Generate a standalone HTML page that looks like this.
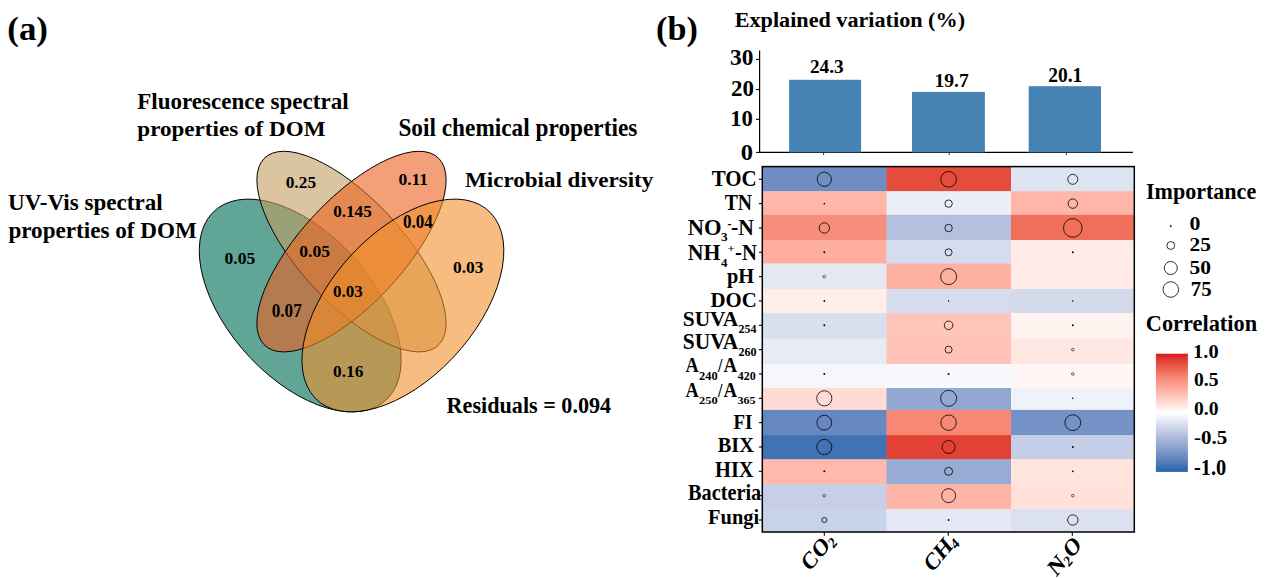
<!DOCTYPE html>
<html><head><meta charset="utf-8"><style>
html,body{margin:0;padding:0;background:#fff;overflow:hidden;}
svg{display:block;font-family:"Liberation Serif", serif;}
</style></head><body>
<svg width="1269" height="578" viewBox="0 0 1269 578">
<rect width="1269" height="578" fill="#fff"/>
<text transform="translate(7.30,40.03) scale(1,0.968)" font-size="34.90" font-weight="bold">(a)</text>
<text transform="translate(137.20,108.60) scale(1,0.968)" font-size="23.07" font-weight="bold">Fluorescence spectral</text>
<text transform="translate(137.30,136.01) scale(1,0.914)" font-size="23.11" font-weight="bold">properties of DOM</text>
<text transform="translate(398.40,135.79) scale(1,1.051)" font-size="23.30" font-weight="bold">Soil chemical properties</text>
<text transform="translate(465.10,187.00) scale(1,0.939)" font-size="23.04" font-weight="bold">Microbial diversity</text>
<text transform="translate(8.10,210.30) scale(1,1.000)" font-size="23.10" font-weight="bold">UV-Vis spectral</text>
<text transform="translate(8.40,238.20) scale(1,0.966)" font-size="23.14" font-weight="bold">properties of DOM</text>
<text transform="translate(446.60,412.59) scale(1,1.047)" font-size="22.16" font-weight="bold">Residuals = 0.094</text>
<ellipse cx="0" cy="0" rx="124.2" ry="70.4" transform="translate(300.2,305.5) scale(1,1.054) rotate(45)" fill="#0C745D" fill-opacity="0.65" stroke="#000" stroke-width="0.9"/>
<ellipse cx="0" cy="0" rx="123.9" ry="50.6" transform="translate(351.5,251.6) scale(1,1.06) rotate(45)" fill="#C19E61" fill-opacity="0.6" stroke="#000" stroke-width="0.9"/>
<ellipse cx="0" cy="0" rx="123.9" ry="50.6" transform="translate(351.5,251.6) scale(1,1.06) rotate(-45)" fill="#EB611E" fill-opacity="0.6" stroke="#000" stroke-width="0.9"/>
<ellipse cx="0" cy="0" rx="124.2" ry="70.4" transform="translate(402.9,305.5) scale(1,1.054) rotate(-45)" fill="#F08F2B" fill-opacity="0.6" stroke="#000" stroke-width="0.9"/>
<text transform="translate(285.70,187.50) scale(1,1.002)" font-size="17.36" font-weight="bold">0.25</text>
<text transform="translate(333.20,217.20) scale(1,1.006)" font-size="17.15" font-weight="bold">0.145</text>
<text transform="translate(398.40,184.51) scale(1,0.949)" font-size="17.50" font-weight="bold">0.11</text>
<text transform="translate(224.50,263.60) scale(1,0.992)" font-size="17.60" font-weight="bold">0.05</text>
<text transform="translate(299.30,257.31) scale(1,0.966)" font-size="17.60" font-weight="bold">0.05</text>
<text transform="translate(403.00,227.69) scale(1,1.060)" font-size="17.02" font-weight="bold">0.04</text>
<text transform="translate(453.00,272.60) scale(1,0.992)" font-size="17.40" font-weight="bold">0.03</text>
<text transform="translate(271.80,317.19) scale(1,1.052)" font-size="17.10" font-weight="bold">0.07</text>
<text transform="translate(333.10,296.80) scale(1,1.020)" font-size="16.96" font-weight="bold">0.03</text>
<text transform="translate(333.10,376.50) scale(1,1.000)" font-size="17.30" font-weight="bold">0.16</text>
<text transform="translate(656.10,40.16) scale(1,0.977)" font-size="34.20" font-weight="bold">(b)</text>
<text transform="translate(734.70,26.70) scale(1,0.973)" font-size="22.18" font-weight="bold">Explained variation (%)</text>
<path d="M759.6 50.5 V152.4 H1133" fill="none" stroke="#000" stroke-width="1.2"/>
<path d="M756 59.5 H759.6" stroke="#000" stroke-width="1.1"/>
<path d="M756 89.5 H759.6" stroke="#000" stroke-width="1.1"/>
<path d="M756 119.3 H759.6" stroke="#000" stroke-width="1.1"/>
<path d="M756 152.4 H759.6" stroke="#000" stroke-width="1.1"/>
<text transform="translate(730.00,64.70) scale(1,0.987)" font-size="23.40" font-weight="bold">30</text>
<text transform="translate(730.90,95.60) scale(1,1.020)" font-size="22.99" font-weight="bold">20</text>
<text transform="translate(730.20,125.50) scale(1,1.007)" font-size="22.79" font-weight="bold">10</text>
<text transform="translate(740.70,159.82) scale(1,0.908)" font-size="24.54" font-weight="bold">0</text>
<rect x="789.1" y="79.8" width="72.00" height="72.60" fill="#4682B4"/>
<rect x="912" y="91.9" width="72.90" height="60.50" fill="#4682B4"/>
<rect x="1028.7" y="86.2" width="72.30" height="66.20" fill="#4682B4"/>
<text transform="translate(809.90,73.20) scale(1,0.977)" font-size="19.30" font-weight="bold">24.3</text>
<text transform="translate(934.40,86.70) scale(1,1.006)" font-size="19.64" font-weight="bold">19.7</text>
<text transform="translate(1048.20,82.20) scale(1,1.062)" font-size="19.50" font-weight="bold">20.1</text>
<path d="M823.6 152.4 V155" stroke="#000" stroke-width="0.8"/>
<path d="M949.2 152.4 V155" stroke="#000" stroke-width="0.8"/>
<path d="M1066.4 152.4 V155" stroke="#000" stroke-width="0.8"/>
<rect x="762.30" y="166.50" width="124.60" height="25.10" fill="#6D8DC3"/>
<rect x="886.50" y="166.50" width="124.90" height="25.10" fill="#E44D3C"/>
<rect x="1011.00" y="166.50" width="123.70" height="25.10" fill="#DEE3F1"/>
<rect x="762.30" y="191.20" width="124.60" height="24.00" fill="#FFB6A8"/>
<rect x="886.50" y="191.20" width="124.90" height="24.00" fill="#EBEEF7"/>
<rect x="1011.00" y="191.20" width="123.70" height="24.00" fill="#FFB6A8"/>
<rect x="762.30" y="214.80" width="124.60" height="25.70" fill="#F78E7B"/>
<rect x="886.50" y="214.80" width="124.90" height="25.70" fill="#B3C1DF"/>
<rect x="1011.00" y="214.80" width="123.70" height="25.70" fill="#EF6F5B"/>
<rect x="762.30" y="240.10" width="124.60" height="23.80" fill="#FEAE9E"/>
<rect x="886.50" y="240.10" width="124.90" height="23.80" fill="#D4DCED"/>
<rect x="1011.00" y="240.10" width="123.70" height="23.80" fill="#FFEBE6"/>
<rect x="762.30" y="263.50" width="124.60" height="25.90" fill="#E3E8F3"/>
<rect x="886.50" y="263.50" width="124.90" height="25.90" fill="#FEB0A1"/>
<rect x="1011.00" y="263.50" width="123.70" height="25.90" fill="#FFEAE5"/>
<rect x="762.30" y="289.00" width="124.60" height="24.50" fill="#FFEEEA"/>
<rect x="886.50" y="289.00" width="124.90" height="24.50" fill="#D5DCED"/>
<rect x="1011.00" y="289.00" width="123.70" height="24.50" fill="#D2DAEC"/>
<rect x="762.30" y="313.10" width="124.60" height="26.00" fill="#D8DFEF"/>
<rect x="886.50" y="313.10" width="124.90" height="26.00" fill="#FFC5B9"/>
<rect x="1011.00" y="313.10" width="123.70" height="26.00" fill="#FFF3F0"/>
<rect x="762.30" y="338.70" width="124.60" height="25.70" fill="#E7EBF5"/>
<rect x="886.50" y="338.70" width="124.90" height="25.70" fill="#FFC2B6"/>
<rect x="1011.00" y="338.70" width="123.70" height="25.70" fill="#FFE8E2"/>
<rect x="762.30" y="364.00" width="124.60" height="24.40" fill="#F6F7FB"/>
<rect x="886.50" y="364.00" width="124.90" height="24.40" fill="#F8F9FC"/>
<rect x="1011.00" y="364.00" width="123.70" height="24.40" fill="#FFF6F5"/>
<rect x="762.30" y="388.00" width="124.60" height="22.30" fill="#FFDBD3"/>
<rect x="886.50" y="388.00" width="124.90" height="22.30" fill="#92A7D1"/>
<rect x="1011.00" y="388.00" width="123.70" height="22.30" fill="#F0F2F9"/>
<rect x="762.30" y="409.90" width="124.60" height="25.60" fill="#6588C0"/>
<rect x="886.50" y="409.90" width="124.90" height="25.60" fill="#F68874"/>
<rect x="1011.00" y="409.90" width="123.70" height="25.60" fill="#7492C5"/>
<rect x="762.30" y="435.10" width="124.60" height="24.60" fill="#4172B4"/>
<rect x="886.50" y="435.10" width="124.90" height="24.60" fill="#E14233"/>
<rect x="1011.00" y="435.10" width="123.70" height="24.60" fill="#C4CEE6"/>
<rect x="762.30" y="459.30" width="124.60" height="25.40" fill="#FFBAAC"/>
<rect x="886.50" y="459.30" width="124.90" height="25.40" fill="#97ABD4"/>
<rect x="1011.00" y="459.30" width="123.70" height="25.40" fill="#FFE4DE"/>
<rect x="762.30" y="484.30" width="124.60" height="25.10" fill="#C6CFE7"/>
<rect x="886.50" y="484.30" width="124.90" height="25.10" fill="#FFB5A6"/>
<rect x="1011.00" y="484.30" width="123.70" height="25.10" fill="#FFE1DA"/>
<rect x="762.30" y="509.00" width="124.60" height="23.40" fill="#C8D2E8"/>
<rect x="886.50" y="509.00" width="124.90" height="23.40" fill="#E4E8F4"/>
<rect x="1011.00" y="509.00" width="123.70" height="23.40" fill="#DBE1F0"/>
<circle cx="824.30" cy="179.30" r="7.1" fill="none" stroke="#000" stroke-width="0.8"/>
<circle cx="948.60" cy="179.30" r="7.8" fill="none" stroke="#000" stroke-width="0.8"/>
<circle cx="1072.80" cy="179.30" r="5.0" fill="none" stroke="#000" stroke-width="0.8"/>
<circle cx="824.30" cy="203.64" r="0.8" fill="#000"/>
<circle cx="948.60" cy="203.64" r="3.7" fill="none" stroke="#000" stroke-width="0.8"/>
<circle cx="1072.80" cy="203.64" r="4.7" fill="none" stroke="#000" stroke-width="0.8"/>
<circle cx="824.30" cy="227.97" r="5.2" fill="none" stroke="#000" stroke-width="0.8"/>
<circle cx="948.60" cy="227.97" r="3.7" fill="none" stroke="#000" stroke-width="0.8"/>
<circle cx="1072.80" cy="227.97" r="9.3" fill="none" stroke="#000" stroke-width="0.8"/>
<circle cx="824.30" cy="252.31" r="1.0" fill="#000"/>
<circle cx="948.60" cy="252.31" r="3.5" fill="none" stroke="#000" stroke-width="0.8"/>
<circle cx="1072.80" cy="252.31" r="1.0" fill="#000"/>
<circle cx="824.30" cy="276.64" r="1.3" fill="none" stroke="#000" stroke-width="0.6"/>
<circle cx="948.60" cy="276.64" r="8.0" fill="none" stroke="#000" stroke-width="0.8"/>
<circle cx="824.30" cy="300.98" r="0.9" fill="#000"/>
<circle cx="948.60" cy="300.98" r="0.7" fill="#000"/>
<circle cx="1072.80" cy="300.98" r="0.8" fill="#000"/>
<circle cx="824.30" cy="325.31" r="1.0" fill="#000"/>
<circle cx="948.60" cy="325.31" r="4.3" fill="none" stroke="#000" stroke-width="0.8"/>
<circle cx="1072.80" cy="325.31" r="1.0" fill="#000"/>
<circle cx="948.60" cy="349.64" r="3.5" fill="none" stroke="#000" stroke-width="0.8"/>
<circle cx="1072.80" cy="349.64" r="1.3" fill="none" stroke="#000" stroke-width="0.6"/>
<circle cx="824.30" cy="373.98" r="1.0" fill="#000"/>
<circle cx="948.60" cy="373.98" r="1.0" fill="#000"/>
<circle cx="1072.80" cy="373.98" r="1.3" fill="none" stroke="#000" stroke-width="0.6"/>
<circle cx="824.30" cy="398.32" r="7.6" fill="none" stroke="#000" stroke-width="0.8"/>
<circle cx="948.60" cy="398.32" r="8.0" fill="none" stroke="#000" stroke-width="0.8"/>
<circle cx="1072.80" cy="398.32" r="0.8" fill="#000"/>
<circle cx="824.30" cy="422.65" r="7.4" fill="none" stroke="#000" stroke-width="0.8"/>
<circle cx="948.60" cy="422.65" r="7.7" fill="none" stroke="#000" stroke-width="0.8"/>
<circle cx="1072.80" cy="422.65" r="7.9" fill="none" stroke="#000" stroke-width="0.8"/>
<circle cx="824.30" cy="446.99" r="7.6" fill="none" stroke="#000" stroke-width="0.8"/>
<circle cx="948.60" cy="446.99" r="6.5" fill="none" stroke="#000" stroke-width="0.8"/>
<circle cx="1072.80" cy="446.99" r="1.0" fill="#000"/>
<circle cx="824.30" cy="471.32" r="1.0" fill="#000"/>
<circle cx="948.60" cy="471.32" r="4.0" fill="none" stroke="#000" stroke-width="0.8"/>
<circle cx="1072.80" cy="471.32" r="0.9" fill="#000"/>
<circle cx="824.30" cy="495.66" r="1.3" fill="none" stroke="#000" stroke-width="0.6"/>
<circle cx="948.60" cy="495.66" r="7.0" fill="none" stroke="#000" stroke-width="0.8"/>
<circle cx="1072.80" cy="495.66" r="1.3" fill="none" stroke="#000" stroke-width="0.6"/>
<circle cx="824.30" cy="519.99" r="2.5" fill="none" stroke="#000" stroke-width="0.8"/>
<circle cx="948.60" cy="519.99" r="0.9" fill="#000"/>
<circle cx="1072.80" cy="519.99" r="5.2" fill="none" stroke="#000" stroke-width="0.8"/>
<rect x="762.3" y="166.6" width="372.00" height="365.40" fill="none" stroke="#000" stroke-width="1.5"/>
<path d="M758.9 179.30 H762.3" stroke="#000" stroke-width="1.1"/>
<path d="M758.9 203.64 H762.3" stroke="#000" stroke-width="1.1"/>
<path d="M758.9 227.97 H762.3" stroke="#000" stroke-width="1.1"/>
<path d="M758.9 252.31 H762.3" stroke="#000" stroke-width="1.1"/>
<path d="M758.9 276.64 H762.3" stroke="#000" stroke-width="1.1"/>
<path d="M758.9 300.98 H762.3" stroke="#000" stroke-width="1.1"/>
<path d="M758.9 325.31 H762.3" stroke="#000" stroke-width="1.1"/>
<path d="M758.9 349.64 H762.3" stroke="#000" stroke-width="1.1"/>
<path d="M758.9 373.98 H762.3" stroke="#000" stroke-width="1.1"/>
<path d="M758.9 398.32 H762.3" stroke="#000" stroke-width="1.1"/>
<path d="M758.9 422.65 H762.3" stroke="#000" stroke-width="1.1"/>
<path d="M758.9 446.99 H762.3" stroke="#000" stroke-width="1.1"/>
<path d="M758.9 471.32 H762.3" stroke="#000" stroke-width="1.1"/>
<path d="M758.9 495.66 H762.3" stroke="#000" stroke-width="1.1"/>
<path d="M758.9 519.99 H762.3" stroke="#000" stroke-width="1.1"/>
<text transform="translate(711.70,186.38) scale(1,1.105)" font-size="20.95" font-weight="bold">TOC</text>
<text transform="translate(724.70,210.40) scale(1,1.140)" font-size="19.70" font-weight="bold">TN</text>
<text transform="translate(687.70,234.70) scale(1,0.982)" font-size="22.57" font-weight="bold">NO</text>
<text transform="translate(720.90,241.31) scale(1,0.900)" font-size="13.30" font-weight="bold">3</text>
<text transform="translate(727.60,228.22) scale(1,1.150)" font-size="12.00" font-weight="bold">-</text>
<text transform="translate(731.10,234.90) scale(1,1.049)" font-size="21.70" font-weight="bold">-N</text>
<text transform="translate(687.70,260.00) scale(1,1.035)" font-size="21.80" font-weight="bold">NH</text>
<text transform="translate(720.90,266.70) scale(1,0.965)" font-size="12.90" font-weight="bold">4</text>
<text transform="translate(727.40,252.38) scale(1,0.900)" font-size="12.50" font-weight="bold">+</text>
<text transform="translate(735.00,260.00) scale(1,1.088)" font-size="20.70" font-weight="bold">-N</text>
<text transform="translate(726.90,283.30) scale(1,1.067)" font-size="20.40" font-weight="bold">pH</text>
<text transform="translate(710.50,306.89) scale(1,1.055)" font-size="20.85" font-weight="bold">DOC</text>
<text transform="translate(682.70,325.60) scale(1,1.016)" font-size="21.46" font-weight="bold">SUVA</text>
<text transform="translate(738.50,333.39) scale(1,1.062)" font-size="11.90" font-weight="bold">254</text>
<text transform="translate(682.70,348.89) scale(1,1.050)" font-size="21.46" font-weight="bold">SUVA</text>
<text transform="translate(738.50,355.80) scale(1,1.000)" font-size="12.00" font-weight="bold">260</text>
<text transform="translate(685.50,372.10) scale(1,1.150)" font-size="18.30" font-weight="bold">A</text>
<text transform="translate(699.00,379.81) scale(1,0.940)" font-size="12.40" font-weight="bold">240</text>
<text transform="translate(718.10,372.31) scale(1,1.150)" font-size="15.97" font-weight="bold">/</text>
<text transform="translate(723.60,372.10) scale(1,1.136)" font-size="18.90" font-weight="bold">A</text>
<text transform="translate(737.80,379.80) scale(1,0.975)" font-size="11.90" font-weight="bold">420</text>
<text transform="translate(685.50,396.90) scale(1,1.150)" font-size="18.30" font-weight="bold">A</text>
<text transform="translate(699.00,404.41) scale(1,0.916)" font-size="12.40" font-weight="bold">250</text>
<text transform="translate(718.10,397.10) scale(1,1.150)" font-size="15.97" font-weight="bold">/</text>
<text transform="translate(723.60,396.90) scale(1,1.144)" font-size="18.90" font-weight="bold">A</text>
<text transform="translate(737.60,404.41) scale(1,0.938)" font-size="12.00" font-weight="bold">365</text>
<text transform="translate(733.50,428.80) scale(1,1.150)" font-size="18.90" font-weight="bold">FI</text>
<text transform="translate(717.80,452.49) scale(1,1.065)" font-size="20.34" font-weight="bold">BIX</text>
<text transform="translate(715.00,477.40) scale(1,1.107)" font-size="20.45" font-weight="bold">HIX</text>
<text transform="translate(688.00,500.29) scale(1,1.097)" font-size="20.30" font-weight="bold">Bacteria</text>
<text transform="translate(708.10,524.20) scale(1,1.052)" font-size="20.40" font-weight="bold">Fungi</text>
<path d="M824.30 532 V535.8" stroke="#000" stroke-width="1.1"/>
<path d="M948.30 532 V535.8" stroke="#000" stroke-width="1.1"/>
<path d="M1072.30 532 V535.8" stroke="#000" stroke-width="1.1"/>
<text transform="translate(835.6,541) scale(1,1.2) rotate(-45)" font-size="20.5" text-anchor="end" font-weight="bold">CO<tspan font-size="13" dy="3">2</tspan></text>
<text transform="translate(958.2,542) scale(1,1.2) rotate(-45)" font-size="20.5" text-anchor="end" font-weight="bold">CH<tspan font-size="13" dy="3">4</tspan></text>
<text transform="translate(1082.6,546) scale(1,1.2) rotate(-45)" font-size="20.5" text-anchor="end" font-weight="bold">N<tspan font-size="13" dy="3">2</tspan><tspan dy="-3">O</tspan></text>
<text transform="translate(1146.00,198.80) scale(1,1.016)" font-size="22.06" font-weight="bold">Importance</text>
<circle cx="1170.8" cy="226.2" r="0.9" fill="#000"/>
<circle cx="1170.8" cy="245.5" r="3.9" fill="none" stroke="#000" stroke-width="0.8"/>
<circle cx="1170.8" cy="268" r="6.5" fill="none" stroke="#000" stroke-width="0.8"/>
<circle cx="1170.8" cy="289.5" r="7.8" fill="none" stroke="#000" stroke-width="0.8"/>
<text transform="translate(1189.60,229.82) scale(1,0.900)" font-size="21.90" font-weight="bold">0</text>
<text transform="translate(1189.50,251.12) scale(1,0.924)" font-size="21.39" font-weight="bold">25</text>
<text transform="translate(1189.50,273.72) scale(1,0.917)" font-size="21.50" font-weight="bold">50</text>
<text transform="translate(1190.80,296.31) scale(1,0.957)" font-size="20.90" font-weight="bold">75</text>
<text transform="translate(1145.80,330.79) scale(1,1.075)" font-size="22.36" font-weight="bold">Correlation</text>
<defs><linearGradient id="cb" x1="0" y1="0" x2="0" y2="1"><stop offset="0.0" stop-color="#D7191C"/><stop offset="0.0625" stop-color="#E24636"/><stop offset="0.125" stop-color="#EC6451"/><stop offset="0.1875" stop-color="#F4806C"/><stop offset="0.25" stop-color="#FA9A88"/><stop offset="0.3125" stop-color="#FEB3A4"/><stop offset="0.375" stop-color="#FFCDC2"/><stop offset="0.4375" stop-color="#FFE6E0"/><stop offset="0.5" stop-color="#FFFFFF"/><stop offset="0.5625" stop-color="#E6EAF5"/><stop offset="0.625" stop-color="#CED6EA"/><stop offset="0.6875" stop-color="#B5C2E0"/><stop offset="0.75" stop-color="#9CAFD6"/><stop offset="0.8125" stop-color="#839CCB"/><stop offset="0.875" stop-color="#6889C1"/><stop offset="0.9375" stop-color="#4A77B6"/><stop offset="1.0" stop-color="#2166AC"/></linearGradient></defs>
<rect x="1155.9" y="353.7" width="32" height="118.2" fill="url(#cb)"/>
<text transform="translate(1193.10,357.94) scale(1,0.900)" font-size="20.40" font-weight="bold">1.0</text>
<text transform="translate(1194.00,386.32) scale(1,0.947)" font-size="19.60" font-weight="bold">0.5</text>
<text transform="translate(1194.00,415.40) scale(1,0.985)" font-size="19.60" font-weight="bold">0.0</text>
<text transform="translate(1193.90,443.72) scale(1,0.908)" font-size="21.00" font-weight="bold">-0.5</text>
<text transform="translate(1194.00,474.70) scale(1,1.126)" font-size="20.40" font-weight="bold">-1.0</text>
</svg></body></html>
